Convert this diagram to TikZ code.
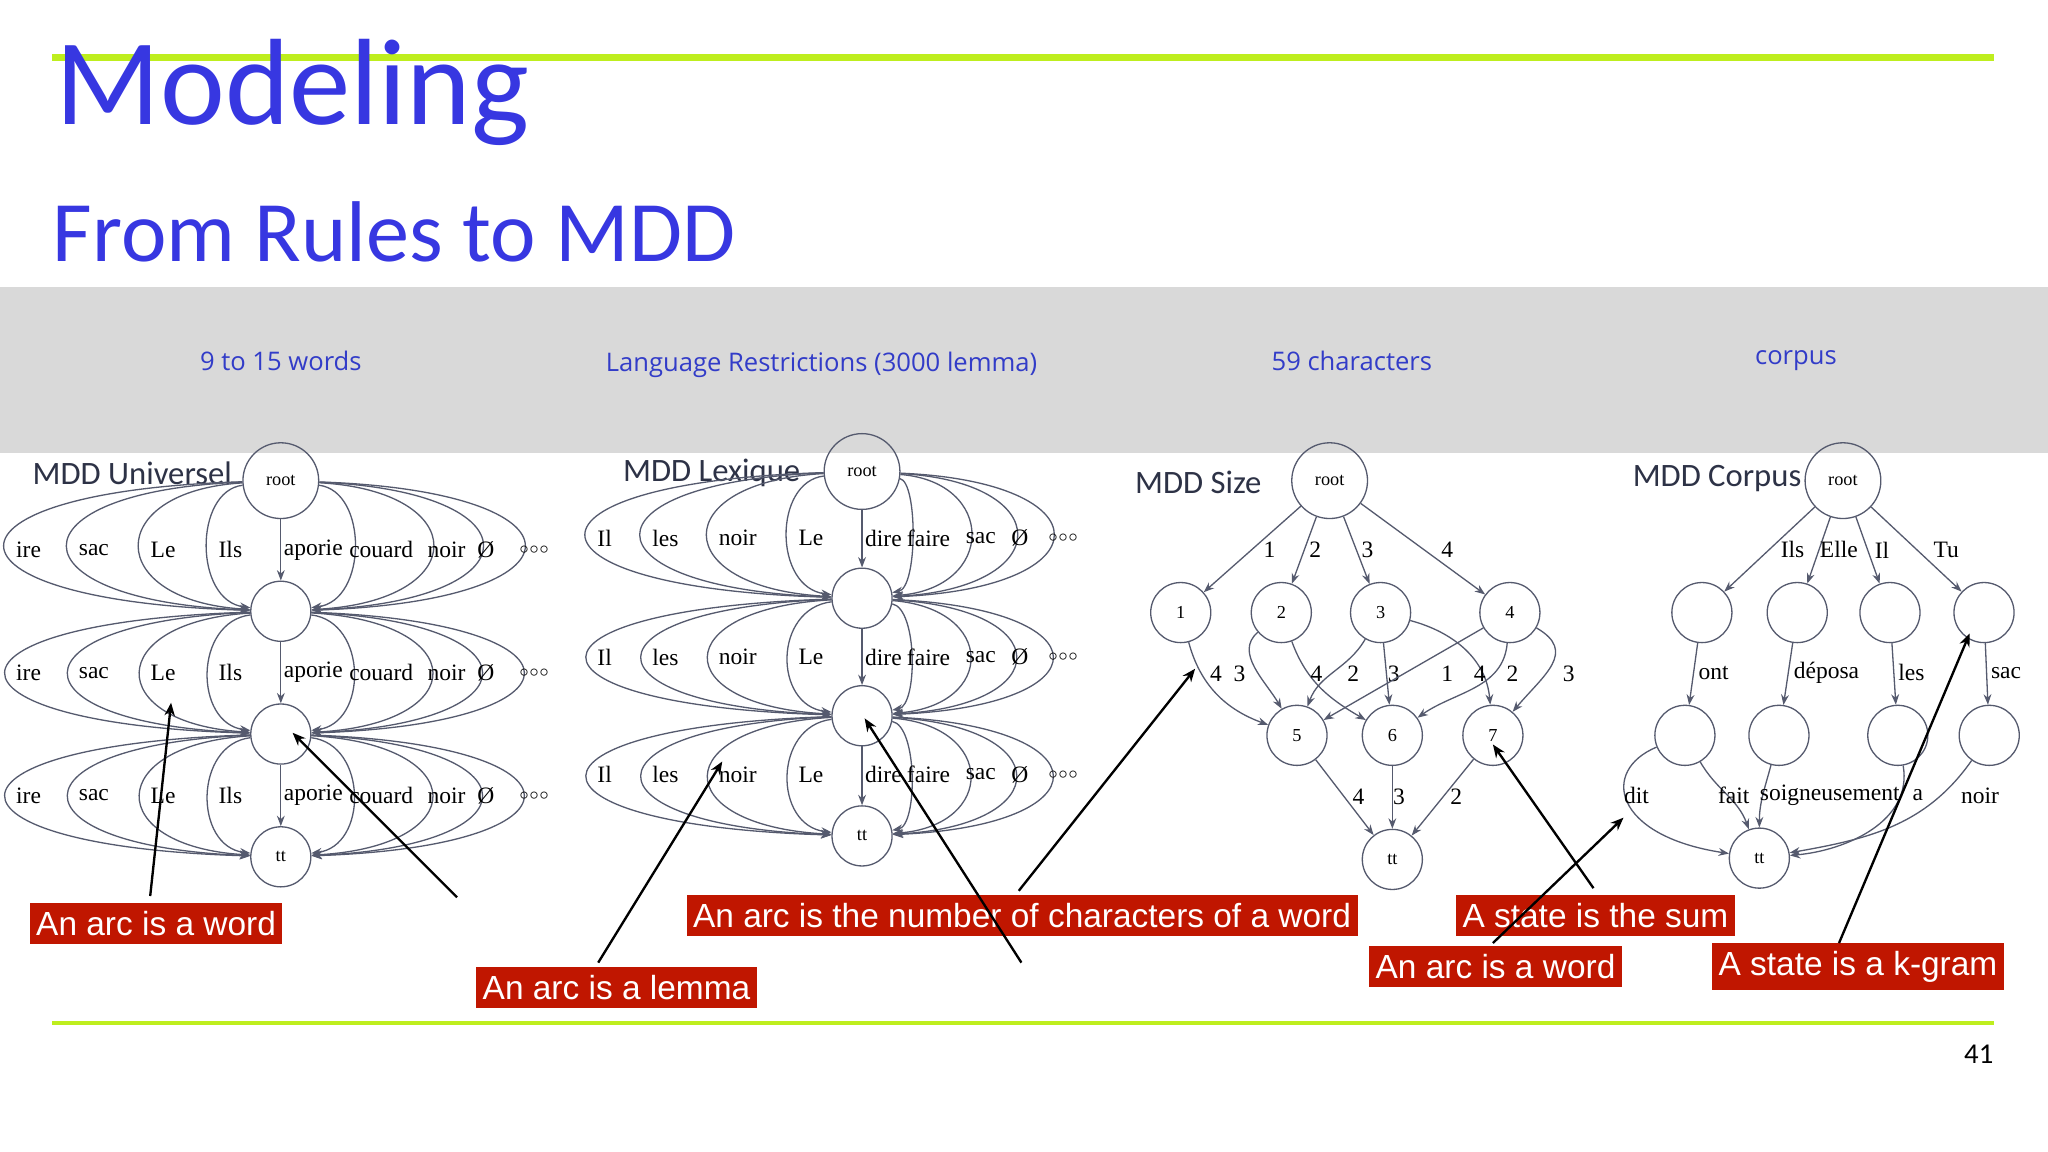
\documentclass[tikz,border=0pt]{standalone}
\usepackage{fontspec}
\setmainfont{Liberation Serif}
\newfontfamily\carl{Carlito}
\newfontfamily\arl{Liberation Sans}
\newfontfamily\hdr{Open Sans}
\usetikzlibrary{arrows.meta}
\definecolor{lime}{RGB}{190,238,30}
\definecolor{ttl}{RGB}{55,55,225}
\definecolor{hblue}{RGB}{50,60,200}
\definecolor{band}{RGB}{217,217,217}
\definecolor{edgec}{RGB}{85,90,110}
\definecolor{redbox}{RGB}{192,22,0}
\definecolor{mddc}{RGB}{45,50,70}
\begin{document}
\begin{tikzpicture}[x=0.5pt,y=-0.5pt,
  st/.style={circle,draw=edgec,line width=0.5pt,minimum size=23pt,inner sep=0pt,font=\fontsize{7}{8}\selectfont},
  rt/.style={st,minimum size=29pt},
  edge/.style={draw=edgec,line width=0.5pt,-{Stealth[length=4pt,width=3pt]}},
  lab/.style={font=\fontsize{9}{10}\selectfont,inner sep=0.5pt},
  hd/.style={font=\hdr\fontsize{9.8}{11}\selectfont,text=hblue},
  mdd/.style={font=\carl\fontsize{12.5}{14}\selectfont,text=mddc,anchor=west},
  box/.style={fill=redbox,text=white,font=\arl\fontsize{12.8}{14}\selectfont,inner xsep=2.5pt,inner ysep=3pt},
  ann/.style={line width=0.9pt,-{Stealth[length=5pt,width=4pt]}}]
\useasboundingbox (0,0) rectangle (1568,882);
\fill[white] (0,0) rectangle (1568,882);
% header
\fill[band] (0,220) rectangle (1568,347);
\draw[lime,line width=3pt] (40,44) -- (1527,44);
\draw[lime,line width=1.5pt] (40,783) -- (1527,783);
\node[anchor=base west,text=ttl,font=\carl\fontsize{47}{52}\selectfont,inner sep=0] (t1) at (42,95) {Modeling};
\node[anchor=base west,text=ttl,font=\carl\fontsize{33}{38}\selectfont,inner sep=0] (t2) at (40,200) {From Rules to MDD};
\node[hd] (h1) at (215,276) {9 to 15 words};
\node[hd] (h2) at (629,279) {Language Restrictions (3000 lemma)};
\node[hd] (h3) at (1035,276) {59 characters};
\node[hd] (h4) at (1375,276) {corpus};
\node[font=\carl\fontsize{11}{12}\selectfont] (pg) at (1515,807) {41};
% MDD titles
\node[mdd] (m1) at (18,362) {MDD Universel};
\node[mdd] (m2) at (470,362) {MDD Lexique};
\node[mdd] (m3) at (862,369) {MDD Size};
\node[mdd] (m4) at (1243,366) {MDD Corpus};
% ---------- Universel
\node[rt] (ur) at (215,368) {root};
\node[st] (u1) at (215,468) {};
\node[st] (u2) at (215,562) {};
\node[st] (ut) at (215,656) {tt};
\foreach \s/\d/\ys/\yd/\y in {ur/u1/368/468/421,u1/u2/468/562/515,u2/ut/562/656/609}{
  \foreach \cx/\t in {10/ire,58/sac,113/Le,165/Ils,265/couard,325/noir,363/Ø,395/$\scriptstyle\circ\circ\circ$}{
    \pgfmathsetmacro\cc{(8*\cx-430)/6}
    \draw[edge] (\s) .. controls (\cc,\ys+8) and (\cc,\yd-8) .. (\d);
    \node[lab,anchor=west] at (\cx+1,\y) {\t};
  }
  \draw[edge] (\s) -- (\d);
  \node[lab,anchor=west] at (216,\y) {aporie};
}
% ---------- Lexique
\node[rt] (lr) at (660,361) {root};
\node[st] (l1) at (660,458) {};
\node[st] (l2) at (660,548) {};
\node[st] (lt) at (660,640) {tt};
\foreach \s/\d/\ys/\yd/\y in {lr/l1/361/458/412,l1/l2/458/548/503,l2/lt/548/640/593}{
  \foreach \cx/\t in {455/Il,497/les,548/noir,609/Le,692/faire,737/sac,772/Ø,800/$\scriptstyle\circ\circ\circ$}{
    \pgfmathsetmacro\cc{(8*\cx-1320)/6}
    \draw[edge] (\s) .. controls (\cc,\ys+8) and (\cc,\yd-8) .. (\d);
    \node[lab,anchor=west] at (\cx+1,\y) {\t};
  }
  \draw[edge] (\s) -- (\d);
  \node[lab,anchor=west] at (661,\y) {dire};
}
% ---------- Size
\node[rt] (sr) at (1018,368) {root};
\node[st] (s1) at (904,469) {1};
\node[st] (s2) at (981,469) {2};
\node[st] (s3) at (1057,469) {3};
\node[st] (s4) at (1156,469) {4};
\node[st] (s5) at (993,563) {5};
\node[st] (s6) at (1066,563) {6};
\node[st] (s7) at (1143,563) {7};
\node[st] (stt) at (1066,658) {tt};
\draw[edge] (sr) -- (s1); \node[lab] at (972,421) {1};
\draw[edge] (sr) -- (s2); \node[lab] at (1007,421) {2};
\draw[edge] (sr) -- (s3); \node[lab] at (1047,421) {3};
\draw[edge] (sr) -- (s4); \node[lab] at (1108,421) {4};
\draw[edge] (s1) to[out=-75,in=160] (s5); \node[lab] at (931,516) {4};
\draw[edge] (s2) to[out=-140,in=120] (s5); \node[lab] at (949,516) {3};
\draw[edge] (s2) to[out=-70,in=150] (s6); \node[lab] at (1008,516) {4};
\draw[edge] (s3) to[out=-120,in=70] (s5); \node[lab] at (1036,516) {2};
\draw[edge] (s3) -- (s6); \node[lab] at (1067,516) {3};
\draw[edge] (s3) to[out=-15,in=95] (s7); \node[lab] at (1133,516) {4};
\draw[edge] (s4) to[out=-150,in=30] (s5); \node[lab] at (1108,516) {1};
\draw[edge] (s4) to[out=-95,in=35] (s6); \node[lab] at (1158,516) {2};
\draw[edge] (s4) to[out=-30,in=50,looseness=1.4] (s7); \node[lab] at (1201,516) {3};
\draw[edge] (s5) -- (stt); \node[lab] at (1040,610) {4};
\draw[edge] (s6) -- (stt); \node[lab] at (1071,610) {3};
\draw[edge] (s7) -- (stt); \node[lab] at (1115,610) {2};
% ---------- Corpus
\node[rt] (cr) at (1411,368) {root};
\node[st] (ca) at (1303,469) {};
\node[st] (cb) at (1376,469) {};
\node[st] (cc) at (1447,469) {};
\node[st] (cd) at (1519,469) {};
\node[st] (ce) at (1290,563) {};
\node[st] (cf) at (1362,563) {};
\node[st] (cg) at (1453,563) {};
\node[st] (ch) at (1523,563) {};
\node[st] (ct) at (1347,657) {tt};
\draw[edge] (cr) -- (ca); \node[lab,anchor=west] at (1362,421) {Ils};
\draw[edge] (cr) -- (cb); \node[lab,anchor=west] at (1392,421) {Elle};
\draw[edge] (cr) -- (cc); \node[lab,anchor=west] at (1434,421) {Il};
\draw[edge] (cr) -- (cd); \node[lab,anchor=west] at (1479,421) {Tu};
\draw[edge] (ca) -- (ce); \node[lab,anchor=west] at (1299,515) {ont};
\draw[edge] (cb) -- (cf); \node[lab,anchor=west] at (1372,515) {déposa};
\draw[edge] (cc) -- (cg); \node[lab,anchor=west] at (1452,515) {les};
\draw[edge] (cd) -- (ch); \node[lab,anchor=west] at (1523,515) {sac};
\draw[edge] (ce) .. controls (1225,590) and (1235,640) .. (ct); \node[lab,anchor=west] at (1242,609) {dit};
\draw[edge] (ce) to[out=-60,in=110] (ct); \node[lab,anchor=west] at (1314,609) {fait};
\draw[edge] (cf) to[out=-105,in=90] (ct); \node[lab,anchor=west] at (1346,609) {soigneusement};
\draw[edge] (cg) to[out=-80,in=5] (ct); \node[lab,anchor=west] at (1463,609) {a};
\draw[edge] (ch) to[out=-125,in=10] (ct); \node[lab,anchor=west] at (1500,609) {noir};
% ---------- annotations
\node[box] (b1) at (119.5,707) {An arc is a word};
\node[box] (b2) at (472,756) {An arc is a lemma};
\node[box] (b3) at (782.5,701) {An arc is the number of characters of a word};
\node[box] (b4) at (1221.5,701) {A state is the sum};
\node[box] (b5) at (1145,740) {An arc is a word};
\node[box] (b6) at (1422.5,740) {A state is a k-gram};
\coordinate (a1s) at (115,686); \coordinate (a1e) at (131,538);
\coordinate (a2s) at (350,687); \coordinate (a2e) at (224,561);
\coordinate (a3s) at (458,737); \coordinate (a3e) at (553,583);
\coordinate (a4s) at (780,682); \coordinate (a4e) at (915,512);
\coordinate (a5s) at (782,737); \coordinate (a5e) at (662,550);
\coordinate (a6s) at (1220,680); \coordinate (a6e) at (1143,570);
\coordinate (a7s) at (1143,722); \coordinate (a7e) at (1243,626);
\coordinate (a8s) at (1408,722); \coordinate (a8e) at (1508,485);
\foreach \i in {1,...,8}{\draw[ann] (a\i s) -- (a\i e);}
\end{tikzpicture}
\end{document}
